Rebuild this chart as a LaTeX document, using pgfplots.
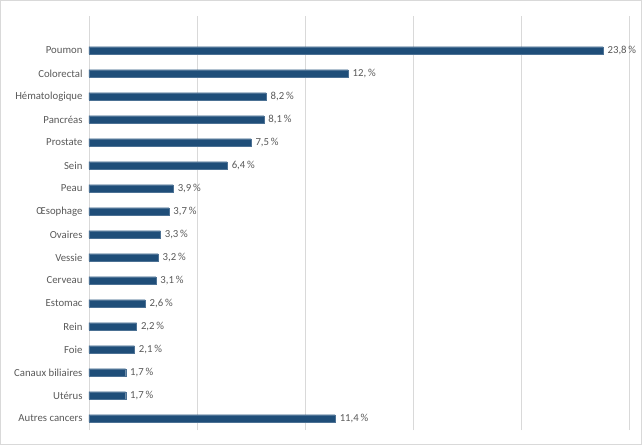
\documentclass[border=0pt]{standalone}
\usepackage{pgfplots}
\pgfplotsset{compat=1.18}
\usepackage{pgfplotstable}
\usepackage{fontspec}
\setmainfont{Carlito}
\definecolor{barblue}{HTML}{1F4E79}
\definecolor{txtgrey}{HTML}{595959}
\definecolor{gridgrey}{HTML}{D9D9D9}
\pgfplotstableread{
x y lab
23.8 16 23,8
12.0 15 12,
8.2 14 8,2
8.1 13 8,1
7.5 12 7,5
6.4 11 6,4
3.9 10 3,9
3.7 9 3,7
3.3 8 3,3
3.2 7 3,2
3.1 6 3,1
2.6 5 2,6
2.2 4 2,2
2.1 3 2,1
1.7 2 1,7
1.7 1 1,7
11.4 0 11,4
}\datatab
\begin{document}
\begin{tikzpicture}
\draw[color=gridgrey, line width=1.5bp] (-88.25bp,-14.25bp) rectangle (552.25bp,429.25bp);
\begin{axis}[
  at={(0,0)}, anchor=south west,
  scale only axis, width=540bp, height=414bp,
  xmin=0, xmax=25, ymin=-0.5, ymax=17.5,
  axis line style={draw=none},
  xtick={0,5,10,15,20,25}, xticklabels={},
  xmajorgrids, grid style={gridgrey, line width=0.8bp},
  ytick={0,...,16},
  yticklabels={Autres cancers,Utérus,Canaux biliaires,Foie,Rein,Estomac,Cerveau,Vessie,Ovaires,Œsophage,Peau,Sein,Prostate,Pancréas,Hématologique,Colorectal,Poumon},
  yticklabel style={font=\fontsize{10.8}{12}\selectfont, text=txtgrey, xshift=-3bp},
  major tick length=0pt,
  clip=false,
]
\addplot[xbar, bar width=7.5bp, fill=barblue, draw=barblue!80!white, line width=0.4bp,
  point meta=explicit symbolic,
  nodes near coords={\pgfplotspointmeta\,\%},
  nodes near coords style={font=\fontsize{10.8}{12}\selectfont, text=txtgrey, anchor=west, xshift=1bp},
] table[x=x, y=y, meta=lab] {\datatab};
\end{axis}
\end{tikzpicture}
\end{document}
